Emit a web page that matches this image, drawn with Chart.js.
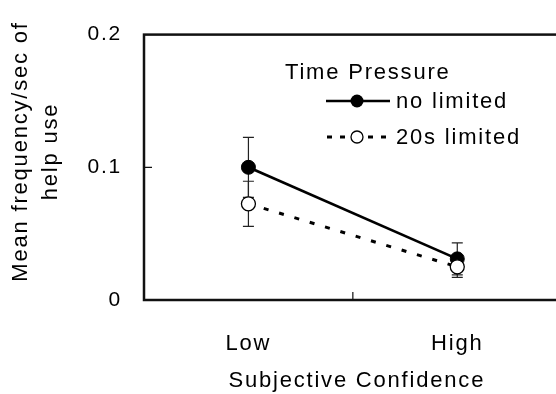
<!DOCTYPE html>
<html>
<head>
<meta charset="utf-8">
<script src="https://cdn.jsdelivr.net/npm/chart.js@4/dist/chart.umd.min.js"></script>
<style>
  html, body { margin: 0; padding: 0; background: #fff; overflow: hidden; }
  #wrap { width: 556px; height: 394px; overflow: hidden; }
</style>
</head>
<body>
<div id="wrap"><canvas id="chart" width="570" height="394"></canvas></div>
<script>
// data
var categories = ['Low', 'High'];
var noLimited = [0.100, 0.031];
var noLimitedErr = [0.0226, 0.012];
var limited20s = [0.0725, 0.025];
var limited20sErr = [0.017, 0.008];
var yTicks = [0, 0.1, 0.2];

var FONT = '"Liberation Sans", Arial, sans-serif';
var FS = 22;
var SPACING = '1.8px';

// frame, inward ticks, error bars, legend
var framePlugin = {
  id: 'frame',
  beforeDraw: function(chart) {
    chart.ctx.letterSpacing = SPACING;
  },
  beforeDatasetsDraw: function(chart) {
    var ctx = chart.ctx;
    var xs = chart.scales.x, ys = chart.scales.y;
    var sets = [[noLimited, noLimitedErr], [limited20s, limited20sErr]];
    ctx.save();
    ctx.strokeStyle = '#222';
    ctx.lineWidth = 1.2;
    sets.forEach(function(s) {
      s[0].forEach(function(v, i) {
        var x = xs.getPixelForValue(i);
        var top = ys.getPixelForValue(v + s[1][i]);
        var bot = ys.getPixelForValue(v - s[1][i]);
        ctx.beginPath();
        ctx.moveTo(x, top); ctx.lineTo(x, bot);
        ctx.moveTo(x - 5.5, top); ctx.lineTo(x + 5.5, top);
        ctx.moveTo(x - 5.5, bot); ctx.lineTo(x + 5.5, bot);
        ctx.stroke();
      });
    });
    ctx.restore();
  },
  afterDraw: function(chart) {
    var ctx = chart.ctx, a = chart.chartArea;
    var xs = chart.scales.x, ys = chart.scales.y;
    ctx.save();
    ctx.strokeStyle = '#111';
    ctx.lineWidth = 2.5;
    ctx.strokeRect(a.left, a.top, a.right - a.left, a.bottom - a.top);
    ctx.lineWidth = 1.2;
    ctx.beginPath();
    var yt = ys.getPixelForValue(0.1);
    ctx.moveTo(a.left, yt); ctx.lineTo(a.left + 8, yt);
    var xm = (xs.getPixelForValue(0) + xs.getPixelForValue(1)) / 2;
    ctx.moveTo(xm, a.bottom); ctx.lineTo(xm, a.bottom - 8);
    ctx.stroke();

    // legend
    ctx.letterSpacing = SPACING;
    ctx.fillStyle = '#000';
    ctx.font = FS + 'px ' + FONT;
    ctx.textBaseline = 'middle';
    ctx.textAlign = 'left';
    ctx.fillText('Time Pressure', 285, 73);
    ctx.fillText('no limited', 396, 102);
    ctx.fillText('20s limited', 396, 138);
    ctx.strokeStyle = '#000';
    ctx.lineWidth = 2.5;
    ctx.beginPath();
    ctx.moveTo(326, 101); ctx.lineTo(390, 101);
    ctx.stroke();
    ctx.beginPath();
    ctx.arc(357, 101, 6.5, 0, Math.PI * 2);
    ctx.fill();
    ctx.lineWidth = 3;
    ctx.beginPath();
    ctx.moveTo(327, 137); ctx.lineTo(332, 137);
    ctx.moveTo(340, 137); ctx.lineTo(345, 137);
    ctx.moveTo(368, 137); ctx.lineTo(373, 137);
    ctx.moveTo(381, 137); ctx.lineTo(386, 137);
    ctx.stroke();
    ctx.lineWidth = 1.3;
    ctx.fillStyle = '#fff';
    ctx.beginPath();
    ctx.arc(357, 137, 6, 0, Math.PI * 2);
    ctx.fill(); ctx.stroke();
    ctx.restore();
  }
};

new Chart(document.getElementById('chart'), {
  type: 'line',
  data: {
    labels: categories,
    datasets: [
      {
        label: 'no limited',
        data: noLimited,
        order: 1,
        borderColor: '#000',
        borderWidth: 2.7,
        pointRadius: 7,
        pointBackgroundColor: '#000',
        pointBorderColor: '#000',
        pointBorderWidth: 1
      },
      {
        label: '20s limited',
        data: limited20s,
        order: 0,
        borderColor: '#000',
        borderWidth: 3,
        borderDash: [5, 11],
        pointRadius: 7,
        pointBackgroundColor: '#fff',
        pointBorderColor: '#000',
        pointBorderWidth: 1.3
      }
    ]
  },
  options: {
    responsive: false,
    animation: false,
    layout: { padding: { top: 26, right: 4, left: 0, bottom: 0 } },
    plugins: {
      legend: { display: false },
      tooltip: { enabled: false }
    },
    scales: {
      x: {
        type: 'category',
        offset: true,
        grid: { display: false, drawTicks: false },
        border: { display: false },
        ticks: { color: '#000', padding: 31, font: { family: FONT, size: FS } },
        title: {
          display: true,
          text: ' Subjective Confidence',
          color: '#000',
          font: { family: FONT, size: FS },
          padding: { top: 8, bottom: 0 }
        },
        afterFit: function(s) { s.height = 94; }
      },
      y: {
        min: 0,
        max: 0.2,
        afterBuildTicks: function(s) { s.ticks = yTicks.map(function(v) { return { value: v }; }); },
        grid: { display: false, drawTicks: false },
        border: { display: false },
        ticks: {
          color: '#000',
          padding: 22,
          font: { family: FONT, size: 21 },
          callback: function(v) { return v === 0 ? '0' : v.toFixed(1); }
        },
        title: {
          display: true,
          // leading spaces lift the rotated title a little, as in the original
          text: ['    Mean frequency/sec of', '    help use'],
          color: '#000',
          font: { family: FONT, size: FS, lineHeight: 1.36 },
          padding: { top: 6, bottom: 0 }
        },
        afterFit: function(s) { s.width = 144; }
      }
    }
  },
  plugins: [framePlugin]
});
</script>
</body>
</html>
